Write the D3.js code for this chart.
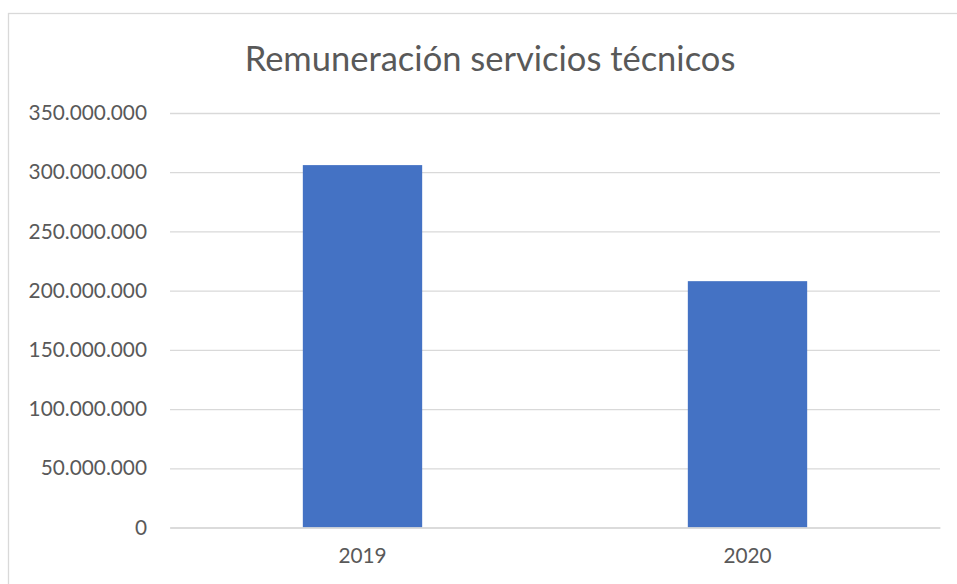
<!DOCTYPE html>
<html><head><meta charset="utf-8">
<script src="https://cdn.jsdelivr.net/npm/d3@7"></script>
<style>html,body{margin:0;padding:0;background:#fff;overflow:hidden}</style>
</head><body>
<script>
const categories = ["2019", "2020"];
const values = [306000000, 208000000];
const yTicks = [0, 50000000, 100000000, 150000000, 200000000, 250000000, 300000000, 350000000];
const title = "Remuneración servicios técnicos";

const W = 957, H = 584;
const svg = d3.select("body").append("svg").attr("width", W).attr("height", H);
const font = "Lato, 'Open Sans', sans-serif";

svg.append("rect").attr("x", 8.5).attr("y", 13.5).attr("width", 1000).attr("height", 1000)
  .attr("fill", "#fff").attr("stroke", "#d9d9d9").attr("stroke-width", 1.3);

const x = d3.scaleBand().domain(categories).range([170, 940]).paddingInner(0.69).paddingOuter(0.345);
const y = d3.scaleLinear().domain([0, 350000000]).range([527.5, 113]);

const fmt = v => d3.format(",")(v).replace(/,/g, ".");

const gy = svg.append("g").attr("transform", "translate(170,0)")
  .call(d3.axisLeft(y).tickValues(yTicks).tickSize(-770).tickFormat(fmt).tickPadding(23));
gy.select(".domain").remove();
gy.selectAll(".tick line").attr("stroke", "#d9d9d9").attr("stroke-width", 1.3);
gy.selectAll(".tick text").attr("fill", "#595959").attr("font-family", font).attr("font-size", 20.8);

svg.selectAll("rect.bar").data(values).join("rect").attr("class", "bar")
  .attr("x", (d, i) => x(categories[i])).attr("width", x.bandwidth())
  .attr("y", d => y(d)).attr("height", d => y(0) - y(d)).attr("fill", "#4472C4");

const gx = svg.append("g").attr("transform", "translate(0,527.5)")
  .call(d3.axisBottom(x).tickSize(0).tickPadding(21));
gx.select(".domain").attr("stroke", "#d9d9d9").attr("stroke-width", 1.3);
gx.selectAll(".tick text").attr("fill", "#595959").attr("font-family", font).attr("font-size", 20.8);

svg.append("text").attr("x", 490).attr("y", 71).attr("text-anchor", "middle")
  .attr("fill", "#595959").attr("font-family", font).attr("font-size", 34.5).text(title);
</script>
</body></html>
